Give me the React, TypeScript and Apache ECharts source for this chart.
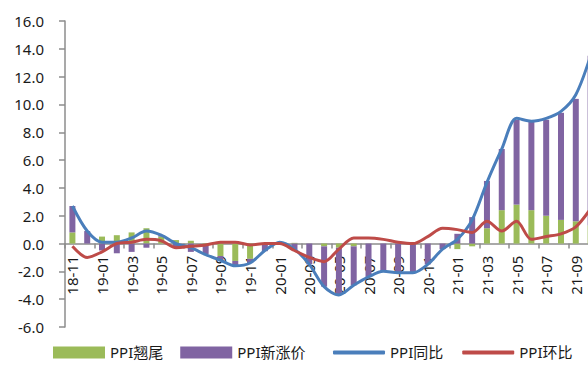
import React, { useEffect, useRef } from "react";
import * as echarts from "echarts";

// Monthly PPI: carry-over vs. new-price contribution, with YoY and MoM lines
const months = [
  "18-11", "18-12", "19-01", "19-02", "19-03", "19-04", "19-05", "19-06", "19-07", "19-08", "19-09", "19-10",
  "19-11", "19-12", "20-01", "20-02", "20-03", "20-04", "20-05", "20-06", "20-07", "20-08", "20-09", "20-10",
  "20-11", "20-12", "21-01", "21-02", "21-03", "21-04", "21-05", "21-06", "21-07", "21-08", "21-09", "21-10",
];

const carryOver = [
  0.8, 0.0, 0.5, 0.6, 0.8, 1.1, 0.5, 0.25, 0.2, -0.15, -0.9, -1.25,
  -1.1, 0.0, 0.1, 0.05, 0.0, -0.2, -0.3, -0.2, 0.0, 0.0, 0.0, 0.0,
  0.0, 0.0, -0.4, -0.2, 1.1, 2.4, 2.8, 2.4, 2.0, 1.7, 1.6, 1.3,
];

const newPrice = [
  1.9, 0.9, -0.5, -0.7, -0.6, -0.3, 0.1, -0.25, -0.6, -0.6, -0.3, -0.35,
  -0.3, -0.55, 0.0, -0.45, -1.5, -2.9, -3.4, -2.8, -2.4, -2.0, -2.1, -2.1,
  -1.5, -0.4, 0.7, 1.9, 3.4, 4.4, 6.1, 6.4, 6.9, 7.7, 8.8, 12.2,
];

const yoy = [
  2.7, 0.9, 0.1, 0.1, 0.4, 0.9, 0.6, 0.0, -0.3, -0.8, -1.2, -1.6,
  -1.4, -0.5, 0.1, -0.4, -1.5, -3.1, -3.7, -3.0, -2.4, -2.0, -2.1, -2.1,
  -1.5, -0.4, 0.3, 1.7, 4.4, 6.8, 9.0, 8.8, 9.0, 9.5, 10.7, 13.5,
];

const mom = [
  -0.2, -1.0, -0.6, 0.0, 0.1, 0.3, 0.2, -0.3, -0.2, -0.1, 0.1, 0.1,
  -0.1, 0.0, 0.0, -0.5, -1.0, -1.3, -0.4, 0.4, 0.4, 0.3, 0.1, 0.0,
  0.5, 1.1, 1.0, 0.8, 1.6, 0.9, 1.6, 0.3, 0.5, 0.7, 1.2, 2.5,
];

const Y_MIN = -6;
const Y_MAX = 16;

const FONT = "'Noto Sans', 'Noto Sans CJK SC', sans-serif";
const AXIS_GREY = "#8c8c8c";
const TEXT = "#1a1a1a";

const GRID_TOP = 21;
const GRID_BOTTOM = 40;
const CHART_W = 598;
const CHART_H = 367;

export default function App() {
  const ref = useRef<HTMLDivElement>(null);

  useEffect(() => {
    document.body.style.margin = "0";
    if (!ref.current) return;
    const chart = echarts.init(ref.current, undefined, { renderer: "svg" });

    // the category axis sits on the zero line of the value axis
    const plotH = CHART_H - GRID_TOP - GRID_BOTTOM;
    const zeroOffset = -((0 - Y_MIN) / (Y_MAX - Y_MIN)) * plotH;

    const legendText = { fontSize: 15, color: TEXT, fontFamily: FONT };

    chart.setOption({
      animation: false,
      backgroundColor: "#ffffff",
      textStyle: { fontFamily: FONT },
      grid: {
        left: 65,
        right: 0,
        top: GRID_TOP,
        bottom: GRID_BOTTOM,
        containLabel: false,
        outerBoundsMode: "none",
      },
      legend: [
        {
          left: 48,
          bottom: 2,
          itemWidth: 52,
          itemHeight: 12,
          itemGap: 17,
          icon: "rect",
          textStyle: legendText,
          data: ["PPI翘尾", "PPI新涨价"],
        },
        {
          left: 328,
          bottom: 2,
          itemWidth: 52,
          itemHeight: 4,
          itemGap: 19,
          icon: "roundRect",
          textStyle: legendText,
          data: ["PPI同比", "PPI环比"],
        },
      ],
      xAxis: {
        type: "category",
        data: months,
        boundaryGap: true,
        offset: zeroOffset,
        z: 0,
        axisLine: { onZero: false, lineStyle: { color: AXIS_GREY, width: 1.5 } },
        axisTick: {
          show: true,
          interval: 1,
          length: 5,
          alignWithLabel: false,
          lineStyle: { color: AXIS_GREY, width: 1.5 },
        },
        axisLabel: {
          interval: 1,
          rotate: 90,
          margin: 12,
          fontSize: 15,
          color: TEXT,
          fontFamily: FONT,
        },
        splitLine: { show: false },
      },
      yAxis: {
        type: "value",
        min: Y_MIN,
        max: Y_MAX,
        interval: 2,
        z: 0,
        axisLine: { show: true, lineStyle: { color: AXIS_GREY, width: 1.5 } },
        axisTick: { show: true, length: 6, lineStyle: { color: AXIS_GREY, width: 1.5 } },
        axisLabel: {
          margin: 21,
          fontSize: 15,
          color: TEXT,
          fontFamily: FONT,
          formatter: (v: number) => v.toFixed(1),
        },
        splitLine: { show: false },
      },
      series: [
        {
          name: "PPI翘尾",
          type: "bar",
          stack: "ppi",
          barWidth: 6,
          z: 3,
          itemStyle: { color: "#9bbb59" },
          data: carryOver,
        },
        {
          name: "PPI新涨价",
          type: "bar",
          stack: "ppi",
          barWidth: 6,
          z: 3,
          itemStyle: { color: "#8064a2" },
          data: newPrice,
        },
        {
          name: "PPI同比",
          type: "line",
          smooth: 0.3,
          symbol: "none",
          z: 4,
          lineStyle: { color: "#4a7ebb", width: 3 },
          itemStyle: { color: "#4a7ebb" },
          data: yoy,
        },
        {
          name: "PPI环比",
          type: "line",
          smooth: 0.3,
          symbol: "none",
          z: 5,
          lineStyle: { color: "#be4b48", width: 3 },
          itemStyle: { color: "#be4b48" },
          data: mom,
        },
      ],
    });

    return () => chart.dispose();
  }, []);

  // The plot runs a little past the right edge, so the chart is wider than its frame
  return (
    <div style={{ width: 588, height: CHART_H, overflow: "hidden" }}>
      <div ref={ref} style={{ width: CHART_W, height: CHART_H }} />
    </div>
  );
}
